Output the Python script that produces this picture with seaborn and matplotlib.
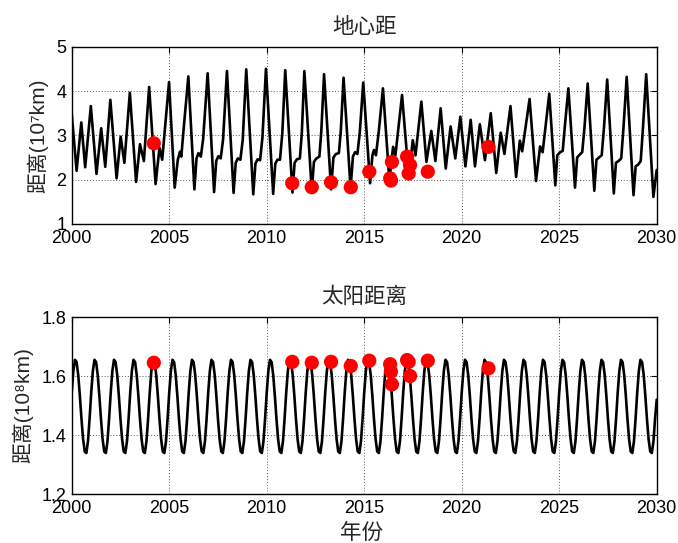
import matplotlib
matplotlib.use("Agg")
import matplotlib.pyplot as plt
import numpy as np
import seaborn as sns

# geocentric distance (1e7 km), read at the turning points of the curve
geo_year = [
    2000.00, 2000.25, 2000.49, 2000.69, 2000.98,
    2001.27, 2001.51, 2001.72, 2001.98,
    2002.30, 2002.51, 2002.70, 2002.98,
    2003.30, 2003.50, 2003.70, 2003.97,
    2004.30, 2004.50, 2004.64, 2004.99,
    2005.28, 2005.44, 2005.55, 2005.62, 2005.72, 2005.98,
    2006.29, 2006.40, 2006.50, 2006.62, 2006.74, 2006.97,
    2007.30, 2007.41, 2007.52, 2007.64, 2007.76, 2007.96,
    2008.30, 2008.41, 2008.52, 2008.65, 2008.77, 2008.95,
    2009.31, 2009.42, 2009.53, 2009.66, 2009.78, 2009.96,
    2010.33, 2010.44, 2010.55, 2010.68, 2010.80, 2010.95,
    2011.32, 2011.43, 2011.55, 2011.70, 2011.80, 2011.93,
    2012.31, 2012.42, 2012.55, 2012.70, 2012.80, 2012.94,
    2013.30, 2013.42, 2013.55, 2013.70, 2013.80, 2013.94,
    2014.30, 2014.42, 2014.53, 2014.65, 2014.77, 2014.95,
    2015.30, 2015.42, 2015.50, 2015.60, 2015.75, 2015.96,
    2016.29, 2016.48, 2016.60, 2016.94,
    2017.28, 2017.49, 2017.63, 2017.93,
    2018.19, 2018.44, 2018.65, 2018.92,
    2019.18, 2019.43, 2019.67, 2019.93,
    2020.19, 2020.46, 2020.68, 2020.93,
    2021.19, 2021.49, 2021.77, 2022.00,
    2022.19, 2022.50, 2022.79, 2022.98,
    2023.10, 2023.48, 2023.81, 2024.02,
    2024.15, 2024.49, 2024.80, 2024.90,
    2025.05, 2025.18, 2025.30, 2025.47, 2025.81,
    2025.92, 2026.04, 2026.18, 2026.30, 2026.46, 2026.80,
    2026.91, 2027.04, 2027.18, 2027.30, 2027.46, 2027.80,
    2027.91, 2028.04, 2028.18, 2028.30, 2028.46, 2028.81,
    2028.92, 2029.05, 2029.18, 2029.30, 2029.46, 2029.83,
    2030.00,
]
geo_dist = [
    3.48, 2.20, 3.29, 2.28, 3.66,
    2.13, 3.16, 2.29, 3.80,
    2.03, 2.97, 2.38, 3.96,
    1.95, 2.80, 2.42, 4.09,
    1.90, 2.72, 2.45, 4.20,
    1.82, 2.45, 2.63, 2.52, 3.05, 4.33,
    1.78, 2.48, 2.60, 2.52, 2.92, 4.40,
    1.72, 2.42, 2.53, 2.48, 2.90, 4.45,
    1.70, 2.38, 2.48, 2.45, 2.90, 4.49,
    1.67, 2.36, 2.46, 2.44, 2.95, 4.50,
    1.68, 2.36, 2.45, 2.45, 3.05, 4.47,
    1.71, 2.38, 2.46, 2.48, 3.05, 4.45,
    1.74, 2.40, 2.48, 2.52, 3.10, 4.38,
    1.78, 2.50, 2.58, 2.60, 3.10, 4.30,
    1.80, 2.52, 2.62, 2.58, 3.05, 4.19,
    1.92, 2.55, 2.67, 2.55, 3.10, 4.06,
    1.98, 2.74, 2.55, 3.91,
    2.08, 2.89, 2.55, 3.76,
    2.40, 3.10, 2.42, 3.61,
    2.25, 3.20, 2.48, 3.42,
    2.30, 3.35, 2.30, 3.25,
    2.44, 3.50, 2.15, 3.06,
    2.58, 3.66, 2.06, 2.88,
    2.64, 3.82, 1.97, 2.75,
    2.62, 3.94, 1.87, 2.55,
    2.62, 2.65, 3.26, 4.06, 1.82,
    2.50, 2.56, 2.62, 3.20, 4.17, 1.75,
    2.45, 2.50, 2.55, 3.20, 4.26, 1.69,
    2.38, 2.42, 2.48, 3.20, 4.32, 1.65,
    2.30, 2.34, 2.42, 3.20, 4.38, 1.61,
    2.22,
]

# heliocentric distance (1e8 km), one value per month
sun_year = np.linspace(2000, 2030, 361)
sun_dist = [
    1.544, 1.617, 1.655, 1.647, 1.603, 1.533, 1.454, 1.386, 1.344, 1.339, 1.379, 1.456,
    1.544, 1.617, 1.655, 1.647, 1.603, 1.533, 1.454, 1.386, 1.344, 1.339, 1.379, 1.456,
    1.544, 1.617, 1.655, 1.647, 1.603, 1.533, 1.454, 1.386, 1.344, 1.339, 1.379, 1.456,
    1.544, 1.617, 1.655, 1.647, 1.603, 1.533, 1.454, 1.386, 1.344, 1.339, 1.379, 1.456,
    1.544, 1.617, 1.655, 1.647, 1.603, 1.533, 1.454, 1.386, 1.344, 1.339, 1.379, 1.456,
    1.544, 1.617, 1.655, 1.647, 1.603, 1.533, 1.454, 1.386, 1.344, 1.339, 1.379, 1.456,
    1.544, 1.617, 1.655, 1.647, 1.603, 1.533, 1.454, 1.386, 1.344, 1.339, 1.379, 1.456,
    1.544, 1.617, 1.655, 1.647, 1.603, 1.533, 1.454, 1.386, 1.344, 1.339, 1.379, 1.456,
    1.544, 1.617, 1.655, 1.647, 1.603, 1.533, 1.454, 1.386, 1.344, 1.339, 1.379, 1.456,
    1.544, 1.617, 1.655, 1.647, 1.603, 1.533, 1.454, 1.386, 1.344, 1.339, 1.379, 1.456,
    1.544, 1.617, 1.655, 1.647, 1.603, 1.533, 1.454, 1.386, 1.344, 1.339, 1.379, 1.456,
    1.544, 1.617, 1.655, 1.647, 1.603, 1.533, 1.454, 1.386, 1.344, 1.339, 1.379, 1.456,
    1.544, 1.617, 1.655, 1.647, 1.603, 1.533, 1.454, 1.386, 1.344, 1.339, 1.379, 1.456,
    1.544, 1.617, 1.655, 1.647, 1.603, 1.533, 1.454, 1.386, 1.344, 1.339, 1.379, 1.456,
    1.544, 1.617, 1.655, 1.647, 1.603, 1.533, 1.454, 1.386, 1.344, 1.339, 1.379, 1.456,
    1.544, 1.617, 1.655, 1.647, 1.603, 1.533, 1.454, 1.386, 1.344, 1.339, 1.379, 1.456,
    1.544, 1.617, 1.655, 1.647, 1.603, 1.533, 1.454, 1.386, 1.344, 1.339, 1.379, 1.456,
    1.544, 1.617, 1.655, 1.647, 1.603, 1.533, 1.454, 1.386, 1.344, 1.339, 1.379, 1.456,
    1.544, 1.617, 1.655, 1.647, 1.603, 1.533, 1.454, 1.386, 1.344, 1.339, 1.379, 1.456,
    1.544, 1.617, 1.655, 1.647, 1.603, 1.533, 1.454, 1.386, 1.344, 1.339, 1.379, 1.456,
    1.544, 1.617, 1.655, 1.647, 1.603, 1.533, 1.454, 1.386, 1.344, 1.339, 1.379, 1.456,
    1.544, 1.617, 1.655, 1.647, 1.603, 1.533, 1.454, 1.386, 1.344, 1.339, 1.379, 1.456,
    1.544, 1.617, 1.655, 1.647, 1.603, 1.533, 1.454, 1.386, 1.344, 1.339, 1.379, 1.456,
    1.544, 1.617, 1.655, 1.647, 1.603, 1.533, 1.454, 1.386, 1.344, 1.339, 1.379, 1.456,
    1.544, 1.617, 1.655, 1.647, 1.603, 1.533, 1.454, 1.386, 1.344, 1.339, 1.379, 1.456,
    1.544, 1.617, 1.655, 1.647, 1.603, 1.533, 1.454, 1.386, 1.344, 1.339, 1.379, 1.456,
    1.544, 1.617, 1.655, 1.647, 1.603, 1.533, 1.454, 1.386, 1.344, 1.339, 1.379, 1.456,
    1.544, 1.617, 1.655, 1.647, 1.603, 1.533, 1.454, 1.386, 1.344, 1.339, 1.379, 1.456,
    1.544, 1.617, 1.655, 1.647, 1.603, 1.533, 1.454, 1.386, 1.344, 1.339, 1.379, 1.456,
    1.544, 1.617, 1.655, 1.647, 1.603, 1.533, 1.454, 1.386, 1.344, 1.339, 1.379, 1.456,
    1.520,
]

# observation epochs (red dots)
obs_year = [2004.21, 2011.31, 2012.31, 2013.30, 2014.31, 2015.26, 2016.33,
            2016.37, 2016.42, 2017.20, 2017.28, 2017.35, 2018.26, 2021.37]
obs_geo = [2.82, 1.92, 1.83, 1.94, 1.83, 2.18, 2.03,
           1.98, 2.40, 2.52, 2.14, 2.33, 2.18, 2.74]
obs_sun = [1.645, 1.648, 1.645, 1.648, 1.634, 1.652, 1.640,
           1.615, 1.572, 1.654, 1.648, 1.600, 1.652, 1.626]

year_ticks = [2000, 2005, 2010, 2015, 2020, 2025, 2030]

sns.set_style("white")
plt.rcParams["font.family"] = ["Liberation Sans", "Noto Sans CJK SC", "DejaVu Sans"]

fig = plt.figure(figsize=(6.78, 5.43), dpi=100)
ax1 = fig.add_axes([0.1058, 0.5875, 0.8628, 0.3265])
ax2 = fig.add_axes([0.1058, 0.0902, 0.8628, 0.3260])


def style_axis(ax, yticks):
    ax.set_xlim(2000, 2030)
    ax.set_ylim(yticks[0], yticks[-1])
    ax.set_xticks(year_ticks)
    ax.set_yticks(yticks)
    ax.grid(True, color="#555555", linestyle=(0, (1, 2)), linewidth=0.7)
    ax.tick_params(direction="in", length=4, width=0.8, top=True, right=True,
                   labelsize=13, pad=4, colors="k")
    for s in ax.spines.values():
        s.set_color("k")
        s.set_linewidth(1.0)
    ax.set_axisbelow(True)


sns.lineplot(x=geo_year, y=geo_dist, ax=ax1, color="k", linewidth=1.9)
sns.scatterplot(x=obs_year, y=obs_geo, ax=ax1, color="red", s=105,
                edgecolor="none", zorder=3)
style_axis(ax1, [1, 2, 3, 4, 5])
ax1.set_yticklabels(["1", "2", "3", "4", "5"])
ax1.set_title("地心距", fontsize=15.5, pad=10)
ax1.set_ylabel("距离(10\u2077km)", fontsize=15)
ax1.yaxis.set_label_coords(-0.04, 0.5)
ax1.set_xlabel("")

sns.lineplot(x=sun_year, y=sun_dist, ax=ax2, color="k", linewidth=1.9)
sns.scatterplot(x=obs_year, y=obs_sun, ax=ax2, color="red", s=105,
                edgecolor="none", zorder=3)
style_axis(ax2, [1.2, 1.4, 1.6, 1.8])
ax2.set_yticklabels(["1.2", "1.4", "1.6", "1.8"])
ax2.set_title("太阳距离", fontsize=15.5, pad=10)
ax2.set_ylabel("距离(10\u2078km)", fontsize=15)
ax2.yaxis.set_label_coords(-0.066, 0.5)
ax2.set_xlabel("年份", fontsize=15.5)
ax2.xaxis.set_label_coords(0.495, -0.165)

fig.savefig("out.png", dpi=100)
